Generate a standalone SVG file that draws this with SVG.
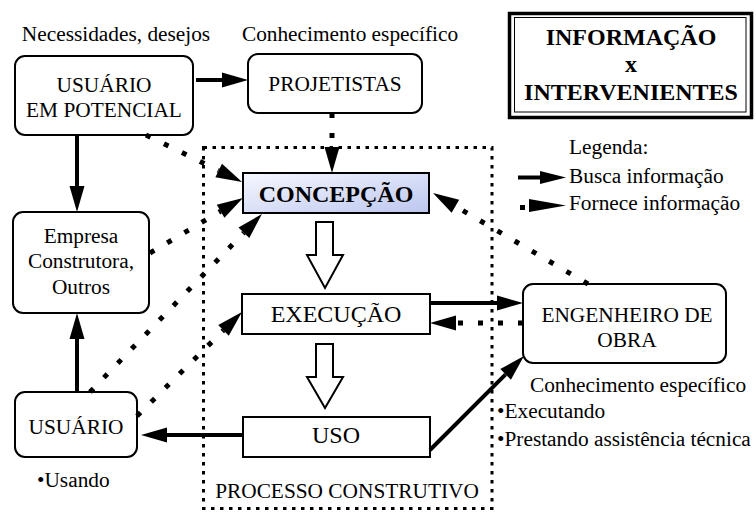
<svg xmlns="http://www.w3.org/2000/svg" width="756" height="512" viewBox="0 0 756 512">
<style>
text{font-family:"Liberation Serif","Times New Roman",serif;fill:#000}
.t{font-size:21.33px}
.tc{font-size:21.33px;text-anchor:middle}
.big{font-size:24px;text-anchor:middle}
.bold{font-size:24px;font-weight:bold;text-anchor:middle}
.rbox{fill:#fff;stroke:#000;stroke-width:2}
.solid{fill:none;stroke:#000;stroke-width:4;marker-end:url(#ah)}
.dot{fill:none;stroke:#000;stroke-width:5;stroke-dasharray:5 15;marker-end:url(#ah)}
.hollow{fill:#fff;stroke:#000;stroke-width:2;stroke-linejoin:miter}
</style>
<defs>
<marker id="ah" markerUnits="userSpaceOnUse" markerWidth="28" markerHeight="16" refX="0" refY="7.5" orient="auto" overflow="visible"><path d="M0,0 L26,7.5 L0,15 z" fill="#000"/></marker>
<linearGradient id="cg" x1="0" y1="0" x2="1" y2="1"><stop offset="0" stop-color="#f6f8ff"/><stop offset="1" stop-color="#bcc6ef"/></linearGradient>
</defs>
<rect width="756" height="512" fill="#fff"/>

<g id="processo">
<rect x="203.5" y="147.5" width="288.5" height="361" fill="none" stroke="#000" stroke-width="3" stroke-dasharray="3.5 5.5"/>
<text class="tc" x="347" y="498">PROCESSO CONSTRUTIVO</text>
</g>

<g id="titulo">
<rect x="509.5" y="13.5" width="242" height="104" fill="#fff" stroke="#000" stroke-width="3.5"/>
<rect x="514.5" y="17.5" width="231.5" height="94.5" fill="none" stroke="#000" stroke-width="1"/>
<text class="bold" x="631" y="45">INFORMAÇÃO</text>
<text class="bold" x="631" y="72">x</text>
<text class="bold" x="631" y="100">INTERVENIENTES</text>
</g>

<g id="legenda">
<text class="t" x="569" y="154">Legenda:</text>
<line x1="518" y1="177.5" x2="542" y2="177.5" stroke="#000" stroke-width="4"/>
<polygon points="540,171 566,177.5 540,184" fill="#000"/>
<text class="t" x="569" y="183">Busca informação</text>
<rect x="520" y="205" width="5" height="5" fill="#000"/>
<polygon points="529,199 566,205.5 529,212" fill="#000"/>
<text class="t" x="569" y="210">Fornece informação</text>
</g>

<g id="usuario-potencial">
<text class="tc" x="116" y="41">Necessidades, desejos</text>
<rect class="rbox" x="15" y="56" width="178" height="79" rx="10"/>
<text class="tc" x="104" y="92">USUÁRIO</text>
<text class="tc" x="104" y="117">EM POTENCIAL</text>
</g>

<g id="projetistas">
<text class="tc" x="350" y="41">Conhecimento específico</text>
<rect class="rbox" x="248" y="54" width="174" height="59" rx="10"/>
<text class="tc" x="335" y="91">PROJETISTAS</text>
</g>

<g id="concepcao">
<rect x="243" y="173" width="186" height="40" fill="url(#cg)" stroke="#000" stroke-width="2"/>
<text class="bold" x="336" y="202">CONCEPÇÃO</text>
</g>

<g id="execucao">
<rect class="rbox" x="242" y="294" width="188" height="40"/>
<text class="big" x="336" y="322">EXECUÇÃO</text>
</g>

<g id="uso">
<rect class="rbox" x="243" y="417" width="187" height="40"/>
<text class="big" x="336" y="443">USO</text>
</g>

<g id="empresa">
<rect class="rbox" x="13" y="212" width="136" height="101" rx="10"/>
<text class="tc" x="81" y="243">Empresa</text>
<text class="tc" x="81" y="268">Construtora,</text>
<text class="tc" x="81" y="294">Outros</text>
</g>

<g id="usuario">
<rect class="rbox" x="15" y="392" width="122" height="65" rx="10"/>
<text class="tc" x="76" y="434">USUÁRIO</text>
<text class="t" x="37" y="487">•Usando</text>
</g>

<g id="engenheiro">
<rect class="rbox" x="523" y="284" width="203" height="79" rx="10"/>
<text class="tc" x="627" y="322">ENGENHEIRO DE</text>
<text class="tc" x="627" y="347">OBRA</text>
<text class="tc" x="638" y="392">Conhecimento específico</text>
<text class="t" x="497" y="418">•Executando</text>
<text class="t" x="497" y="446">•Prestando assistência técnica</text>
</g>

<g id="connectors">
<line class="solid" x1="196" y1="80" x2="222" y2="80"/>
<line class="solid" x1="77" y1="135" x2="77" y2="186"/>
<line class="solid" x1="77" y1="392" x2="77" y2="339"/>
<line class="solid" x1="430" y1="303" x2="497" y2="303"/>
<line class="solid" x1="430" y1="450" x2="505.6" y2="374.4"/>
<line class="solid" x1="243" y1="435" x2="167" y2="435"/>
<line class="dot" x1="332" y1="113" x2="332" y2="147"/>
<line class="dot" x1="146" y1="135" x2="218.7" y2="170.6"/>
<line class="dot" x1="150" y1="253" x2="220.6" y2="211.2"/>
<line class="dot" x1="90" y1="392" x2="243.9" y2="232.7"/>
<line class="dot" x1="137" y1="416" x2="223.5" y2="330.3"/>
<line class="dot" x1="588" y1="284" x2="455.4" y2="206.2"/>
<line class="dot" x1="523" y1="323" x2="456" y2="323"/>
<polygon class="hollow" points="316,222 333,222 333,255 343,255 325,288 307,255 316,255"/>
<polygon class="hollow" points="316,344 333,344 333,377 343,377 325,408 307,377 316,377"/>
</g>
</svg>
